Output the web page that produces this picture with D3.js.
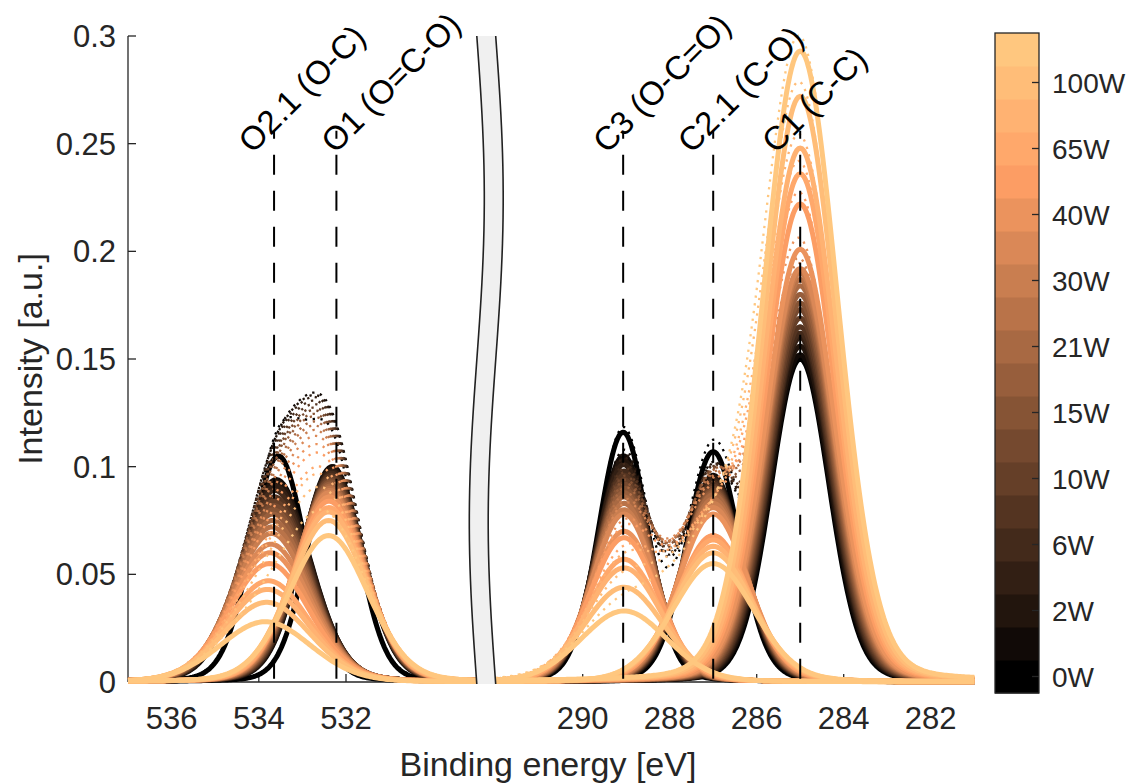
<!DOCTYPE html>
<html>
<head>
<meta charset="utf-8">
<title>XPS O1s / C1s</title>
<style>
  body { margin: 0; background: #fff; }
  svg text { font-family: "Liberation Sans", Arial, Helvetica, sans-serif; }
</style>
</head>
<body>
<svg id="chart" width="1128" height="783"></svg>
<script src="https://d3js.org/d3.v7.min.js"></script>
<script>
// barra de cores: 20 niveis, rotulos a cada dois
var nLevels = 20;
var powerLabels = ["0W", "2W", "6W", "10W", "15W", "21W", "30W", "40W", "65W", "100W"];
var labelLevels = [0, 2, 4, 6, 8, 10, 12, 14, 16, 18];

// picos (linhas tracejadas) e rotulos
var peakNames = ["O2.1 (O-C)", "O1 (O=C-O)", "C3 (O-C=O)", "C2.1 (C-O)", "C1 (C-C)"];
var peakSide = ["L", "L", "R", "R", "R"];
var peakLines = [533.65, 532.22, 289.07, 287.0, 285.0];
var labelPos = [534.15, 532.25, 289.45, 287.5, 285.56];

// componentes: altura, centro e FWHM por nivel (0 = preto ... 19 = mais claro)
var o21Height = [0.105, 0.094, 0.093, 0.091, 0.089, 0.086, 0.084, 0.082, 0.080, 0.078, 0.075, 0.072, 0.069, 0.064, 0.060, 0.055, 0.047, 0.043, 0.037, 0.028];
var o21Center = [533.55, 533.60, 533.61, 533.62, 533.63, 533.64, 533.65, 533.66, 533.67, 533.68, 533.69, 533.70, 533.71, 533.72, 533.74, 533.76, 533.78, 533.80, 533.82, 533.85];
var o21Fwhm = [1.48, 1.84, 1.86, 1.88, 1.90, 1.92, 1.94, 1.96, 1.98, 2.00, 2.02, 2.04, 2.07, 2.10, 2.14, 2.18, 2.23, 2.28, 2.36, 2.46];

var o1Height = [0.100, 0.100, 0.099, 0.098, 0.097, 0.096, 0.095, 0.094, 0.093, 0.092, 0.091, 0.090, 0.089, 0.088, 0.086, 0.084, 0.081, 0.079, 0.075, 0.068];
var o1Center = [532.30, 532.32, 532.32, 532.33, 532.33, 532.34, 532.34, 532.35, 532.35, 532.36, 532.36, 532.37, 532.37, 532.38, 532.38, 532.39, 532.39, 532.40, 532.40, 532.40];
var o1Fwhm = [1.42, 1.66, 1.68, 1.70, 1.72, 1.74, 1.76, 1.78, 1.80, 1.82, 1.84, 1.86, 1.88, 1.90, 1.92, 1.94, 1.98, 2.02, 2.08, 2.15];

var c3Height = [0.116, 0.105, 0.103, 0.101, 0.098, 0.096, 0.094, 0.092, 0.090, 0.088, 0.086, 0.083, 0.080, 0.078, 0.070, 0.067, 0.057, 0.053, 0.044, 0.033];
var c3Center = [289.07, 289.06, 289.06, 289.06, 289.05, 289.05, 289.05, 289.05, 289.05, 289.05, 289.05, 289.05, 289.05, 289.05, 289.05, 289.05, 289.05, 289.05, 289.05, 289.05];
var c3Fwhm = [1.36, 1.46, 1.48, 1.50, 1.52, 1.54, 1.56, 1.58, 1.60, 1.62, 1.64, 1.67, 1.70, 1.74, 1.80, 1.86, 1.94, 2.04, 2.16, 2.34];

var c21Height = [0.107, 0.096, 0.095, 0.094, 0.093, 0.092, 0.091, 0.090, 0.089, 0.088, 0.087, 0.085, 0.083, 0.081, 0.078, 0.068, 0.066, 0.063, 0.060, 0.055];
var c21Center = [287.00, 287.00, 287.00, 287.00, 287.00, 287.00, 287.00, 287.00, 287.00, 287.00, 287.00, 287.00, 287.00, 287.00, 287.00, 287.00, 287.00, 287.00, 287.00, 287.00];
var c21Fwhm = [1.45, 1.56, 1.58, 1.60, 1.62, 1.64, 1.66, 1.68, 1.70, 1.72, 1.74, 1.77, 1.80, 1.84, 1.89, 1.96, 2.02, 2.08, 2.14, 2.22];

var c1Height = [0.150, 0.152, 0.156, 0.160, 0.162, 0.165, 0.169, 0.173, 0.176, 0.180, 0.184, 0.187, 0.190, 0.192, 0.201, 0.222, 0.236, 0.248, 0.272, 0.293];
var c1Center = [285.00, 285.00, 285.00, 285.00, 285.00, 285.00, 285.00, 285.00, 285.00, 285.00, 285.00, 285.00, 285.00, 285.00, 285.00, 285.00, 285.00, 285.00, 285.00, 285.00];
var c1Fwhm = [1.58, 1.62, 1.64, 1.66, 1.68, 1.70, 1.72, 1.74, 1.76, 1.78, 1.80, 1.82, 1.84, 1.86, 1.88, 1.91, 1.94, 1.97, 2.00, 2.04];

// eixos
var leftDomain = [537, 529];
var rightDomain = [292, 281];
var xTicksLeft = [536, 534, 532];
var xTicksRight = [290, 288, 286, 284, 282];
var yTicks = [0, 0.05, 0.1, 0.15, 0.2, 0.25, 0.3];
var yTickLabels = ["0", "0.05", "0.1", "0.15", "0.2", "0.25", "0.3"];

var axisColor = "#262626";
var eta = 0.12; // fracao lorentziana

var svg = d3.select("#chart");

var xL = d3.scaleLinear().domain(leftDomain).range([128, 476.8]);
var xR = d3.scaleLinear().domain(rightDomain).range([495.7, 974.2]);
var y = d3.scaleLinear().domain([0, 0.3]).range([682, 36]);

function copper(i) {
    var v = i / (nLevels - 1);
    return d3.rgb(255 * Math.min(1, 1.25 * v), 255 * 0.7812 * v, 255 * 0.4975 * v).toString();
}

function gl(e, c, w, h) {
    var t = (e - c) / w;
    return h * ((1 - eta) * Math.exp(-4 * Math.LN2 * t * t) + eta / (1 + 4 * t * t));
}

var leftComps = [
    { h: o21Height, c: o21Center, w: o21Fwhm },
    { h: o1Height, c: o1Center, w: o1Fwhm }
];
var rightComps = [
    { h: c3Height, c: c3Center, w: c3Fwhm },
    { h: c21Height, c: c21Center, w: c21Fwhm },
    { h: c1Height, c: c1Center, w: c1Fwhm }
];

var gridL = d3.range(leftDomain[1], leftDomain[0] + 0.0001, 0.04);
var gridR = d3.range(rightDomain[1], rightDomain[0] + 0.0001, 0.04);

// eixos (por baixo das curvas)
var gAxes = svg.append("g");
gAxes.append("line").attr("x1", 128).attr("x2", 128).attr("y1", y(0.3)).attr("y2", y(0))
    .attr("stroke", axisColor).attr("stroke-width", 1.3);
gAxes.append("line").attr("x1", xL(leftDomain[0])).attr("x2", xL(leftDomain[1])).attr("y1", y(0)).attr("y2", y(0))
    .attr("stroke", axisColor).attr("stroke-width", 1.3);
gAxes.append("line").attr("x1", xR(rightDomain[0])).attr("x2", xR(rightDomain[1])).attr("y1", y(0)).attr("y2", y(0))
    .attr("stroke", axisColor).attr("stroke-width", 1.3);

yTicks.forEach(function (t, i) {
    gAxes.append("line").attr("x1", 128).attr("x2", 136).attr("y1", y(t)).attr("y2", y(t))
        .attr("stroke", axisColor).attr("stroke-width", 1.3);
    gAxes.append("text").attr("x", 116).attr("y", y(t)).attr("dy", "0.36em")
        .attr("text-anchor", "end").attr("font-size", 31).attr("fill", axisColor)
        .text(yTickLabels[i]);
});

function xTick(xs, t) {
    gAxes.append("line").attr("x1", xs(t)).attr("x2", xs(t)).attr("y1", y(0)).attr("y2", y(0) - 8)
        .attr("stroke", axisColor).attr("stroke-width", 1.3);
    gAxes.append("text").attr("x", xs(t)).attr("y", 729)
        .attr("text-anchor", "middle").attr("font-size", 31).attr("fill", axisColor)
        .text(t);
}
xTicksLeft.forEach(function (t) { xTick(xL, t); });
xTicksRight.forEach(function (t) { xTick(xR, t); });

gAxes.append("text").attr("x", 548).attr("y", 776).attr("text-anchor", "middle")
    .attr("font-size", 34).attr("fill", axisColor).text("Binding energy [eV]");
gAxes.append("text").attr("transform", "translate(42," + ((y(0) + y(0.3)) / 2) + ") rotate(-90)")
    .attr("text-anchor", "middle").attr("font-size", 34).attr("fill", axisColor)
    .text("Intensity [a.u.]");

// curvas
var gCurves = svg.append("g");

function drawPanel(comps, grid, xs, i) {
    var line = d3.line().x(function (d) { return xs(d[0]); }).y(function (d) { return y(d[1]); });
    var env = grid.map(function (e) {
        return [e, d3.sum(comps, function (p) { return gl(e, p.c[i], p.w[i], p.h[i]); })];
    });
    gCurves.append("path").datum(env).attr("d", line)
        .attr("fill", "none").attr("stroke", copper(i)).attr("stroke-width", 2.3)
        .attr("stroke-dasharray", "2.3,5.5");
    comps.forEach(function (p) {
        var pts = grid.map(function (e) { return [e, gl(e, p.c[i], p.w[i], p.h[i])]; });
        gCurves.append("path").datum(pts).attr("d", line)
            .attr("fill", "none").attr("stroke", copper(i)).attr("stroke-width", 5)
            .attr("stroke-linejoin", "round");
    });
}

for (var i = 0; i < nLevels; i++) {
    drawPanel(leftComps, gridL, xL, i);
    drawPanel(rightComps, gridR, xR, i);
}

// linhas tracejadas e rotulos
var gPeaks = svg.append("g");
peakNames.forEach(function (name, k) {
    var xs = peakSide[k] === "L" ? xL : xR;
    gPeaks.append("line").attr("x1", xs(peakLines[k])).attr("x2", xs(peakLines[k]))
        .attr("y1", y(0.256)).attr("y2", y(0))
        .attr("stroke", "#000").attr("stroke-width", 2)
        .attr("stroke-dasharray", "20,16").attr("stroke-dashoffset", 12);
    gPeaks.append("text")
        .attr("transform", "translate(" + xs(labelPos[k]) + "," + y(0.245) + ") rotate(-45)")
        .attr("font-size", 33).attr("fill", "#000").text(name);
});

// quebra do eixo x
var xMid = (xL(leftDomain[1]) + xR(rightDomain[0])) / 2;
var halfW = (xR(rightDomain[0]) - xL(leftDomain[1])) / 2;
var yTop = y(0.3), yBot = y(0) + 2;
var wave = d3.range(0, 1.0001, 0.02).map(function (t) {
    return [xMid + 7.5 * Math.sin(2 * Math.PI * t), yTop + t * (yBot - yTop)];
});
var leftEdge = wave.map(function (d) { return [d[0] - halfW, d[1]]; });
var rightEdge = wave.map(function (d) { return [d[0] + halfW, d[1]]; });
var lineW = d3.line().curve(d3.curveCatmullRom);
svg.append("path").attr("d", lineW(leftEdge) + "L" + lineW(rightEdge.slice().reverse()).slice(1) + "Z")
    .attr("fill", "#f0f0f0").attr("stroke", "none");
svg.append("path").attr("d", lineW(leftEdge)).attr("fill", "none").attr("stroke", "#222").attr("stroke-width", 1.6);
svg.append("path").attr("d", lineW(rightEdge)).attr("fill", "none").attr("stroke", "#222").attr("stroke-width", 1.6);

// barra de cores
var cbX = 995, cbW = 44;
var yC = d3.scaleLinear().domain([0, nLevels]).range([693, 33]);
var gCb = svg.append("g");
d3.range(nLevels).forEach(function (i) {
    gCb.append("rect").attr("x", cbX).attr("y", yC(i + 1)).attr("width", cbW)
        .attr("height", yC(i) - yC(i + 1) + 0.5).attr("fill", copper(i));
});
gCb.append("rect").attr("x", cbX).attr("y", yC(nLevels)).attr("width", cbW)
    .attr("height", yC(0) - yC(nLevels)).attr("fill", "none")
    .attr("stroke", axisColor).attr("stroke-width", 1.3);
labelLevels.forEach(function (lv, k) {
    var yy = yC(lv + 0.5);
    gCb.append("line").attr("x1", cbX + cbW).attr("x2", cbX + cbW - 7).attr("y1", yy).attr("y2", yy)
        .attr("stroke", axisColor).attr("stroke-width", 1.3);
    gCb.append("text").attr("x", 1052).attr("y", yy).attr("dy", "0.36em")
        .attr("font-size", 28).attr("fill", axisColor).text(powerLabels[k]);
});
</script>
</body>
</html>
